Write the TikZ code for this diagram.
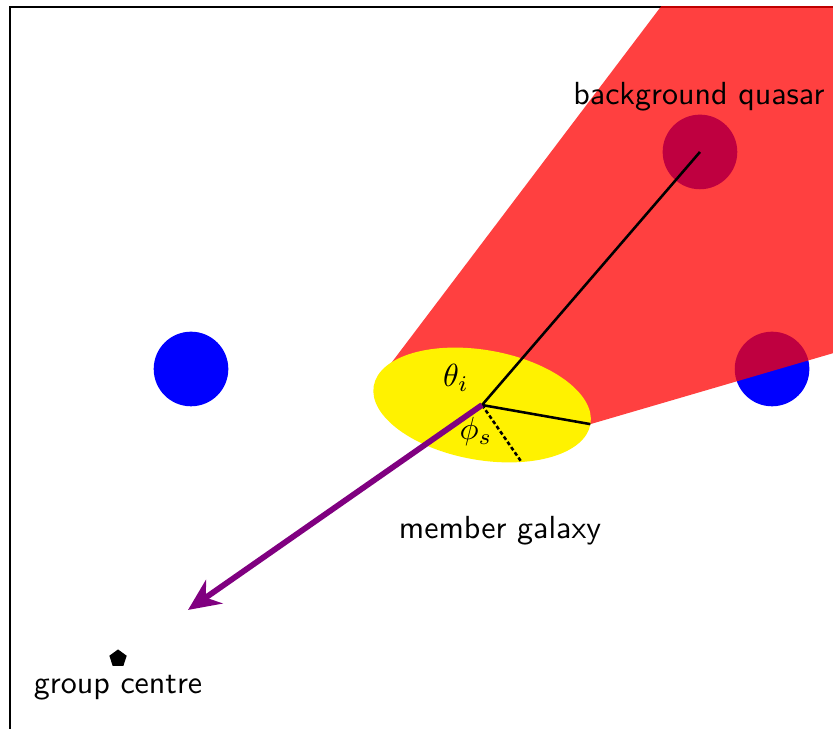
\documentclass[tikz,border=0pt]{standalone}
\usepackage{amsmath}
\usepackage{tikz}
\usetikzlibrary{
  arrows.meta,     % Stealth 箭头
  calc,            % 坐标计算
  shapes.geometric % 正五边形
}
\definecolor{infallpurple}{RGB}{128,0,128}
\tikzset{
  source disc/.style={
    circle,
    fill=blue,
    inner sep=0pt,
    minimum size=0.82cm
  },
  sight cone/.style={
    fill=red,
    fill opacity=0.75
  },
  galaxy body/.style={
    fill=yellow
  },
  sight line/.style={
    line width=0.8pt,
    color=black
  },
  spin line/.style={
    line width=0.8pt,
    dash pattern=on 1.2pt off 0.8pt
  },
  infall arrow/.style={
    -{Stealth[length=10pt, width=9pt]},
    line width=1.8pt,
    color=infallpurple
  },
  centre mark/.style={
    regular polygon,
    regular polygon sides=5,
    fill=black,
    inner sep=0pt,
    minimum size=0.2cm
  },
  label text/.style={
    font=\sffamily
  }
}

\begin{document}
\begin{tikzpicture}

  \useasboundingbox (0,0) rectangle (9.154,8.011);

  % 1. 坐标框 (左边与上边)
  \draw[line width=0.6pt] (0.11,-0.2) |- (9.5,7.934);

  % 2. 关键点
  \coordinate (galaxy) at (5.297,3.560);
  \coordinate (major) at ($(galaxy)+(-10:1.209)$);
  \coordinate (spinend) at ($(galaxy)+(-55.3:0.765)$);
  \coordinate (arrowtip) at (2.066,1.308);

  % 3. 蓝色圆盘 (在红色视锥之下)
  \node[source disc] (leftdisc) at (2.099,3.956) {};
  \node[source disc] (rightdisc) at (8.484,3.956) {};
  \node[source disc] (quasar) at (7.692,6.341) {};

  % 4. 红色半透明视锥 (裁剪在坐标框之内)
  \begin{scope}
    \clip (0.11,0) rectangle (9.154,7.934);
    \fill[sight cone] (galaxy) -- (4.200,3.890) -- (7.545,8.311)
      -- (9.6,8.311) -- (9.6,4.26) -- (major) -- cycle;
  \end{scope}

  % 5. 黄色椭圆星系
  \fill[galaxy body, rotate around={-10:(galaxy)}] (galaxy) ellipse (1.209 and 0.604);

  % 6. 连线与箭头
  \draw[sight line] (galaxy) -- (quasar.center);
  \draw[sight line] (galaxy) -- (major);
  \draw[spin line] (galaxy) -- (spinend);
  \draw[infall arrow] (galaxy) -- (arrowtip);

  % 7. 群中心
  \node[centre mark] (centre) at (1.297,0.774) {};

  % 8. 文字标签
  \node[label text] (quasarlabel) at (7.68,6.945) {background quasar};
  \node (thetalabel) at (5.011,3.857) {$\theta_i$};
  \node (philabel) at (5.231,3.264) {$\phi_s$};
  \node[label text] (galaxylabel) at (5.495,2.176) {member galaxy};
  \node[label text] (centrelabel) at (1.297,0.451) {group centre};

\end{tikzpicture}
\end{document}
